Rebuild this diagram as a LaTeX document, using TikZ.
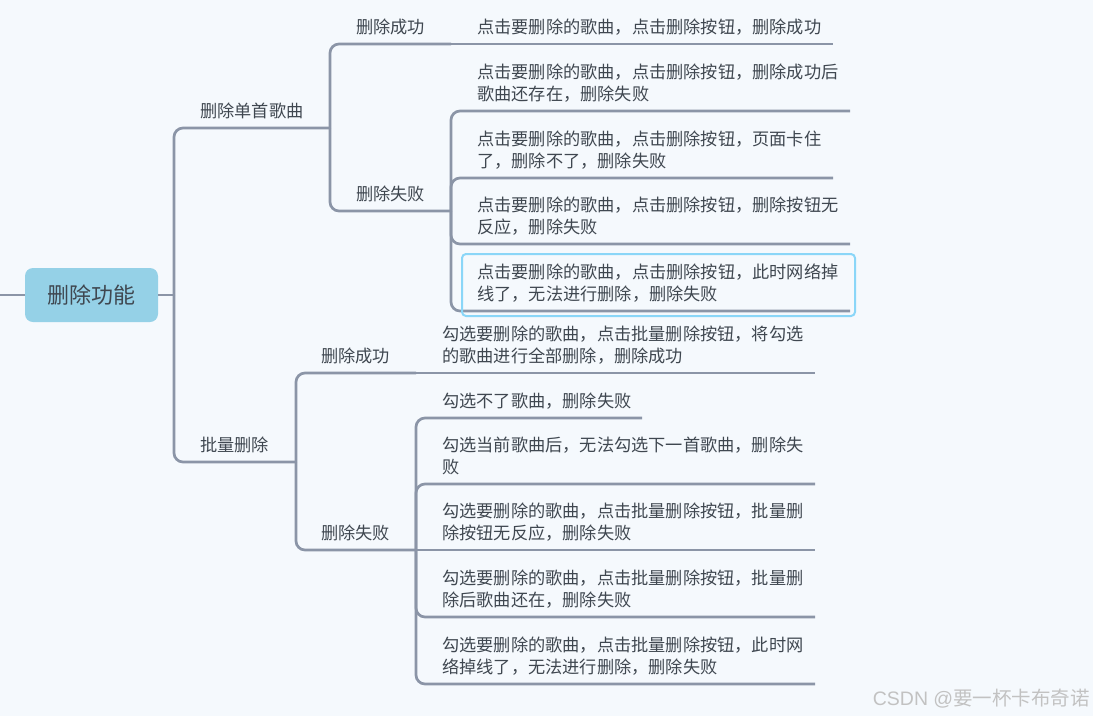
\documentclass[tikz,border=0pt]{standalone}
\usepackage{fontspec}
\setmainfont{Noto Sans CJK SC}
\newfontfamily\wmlatin{Liberation Sans}
\definecolor{bgc}{HTML}{F5F9FD}
\definecolor{linec}{HTML}{8B95A7}
\definecolor{txtc}{HTML}{3F4750}
\definecolor{rootc}{HTML}{95D1E7}
\definecolor{selc}{HTML}{8AD6F8}
\definecolor{wmc}{HTML}{C2C2C2}
\newcommand\twol[2]{\vbox{\baselineskip=22pt\lineskiplimit=-50pt\hbox{#1}\hbox{#2}}}
\begin{document}
\begin{tikzpicture}[x=1pt,y=-1pt,
  conn/.style={draw=linec,line width=2.7pt,rounded corners=9pt},
  lbl/.style={anchor=base west,inner sep=0pt,text=txtc,font=\fontsize{17.2}{22}\selectfont},
  rootbox/.style={fill=rootc,rounded corners=8pt,minimum width=133pt,minimum height=54pt,inner sep=0pt,text=txtc,font=\fontsize{22}{26}\selectfont}]
\fill[bgc] (0,0) rectangle (1093,716);
\useasboundingbox (0,0) rectangle (1093,716);

% root
\node[rootbox] (root) at (91.5,295) {删除功能};
\coordinate (c0) at (0,295);
\coordinate (j0) at (174,295);

% level 1
\node[lbl] (n1) at (200,117.5) {删除单首歌曲};
\coordinate (n1e) at (330,128);
\node[lbl] (n2) at (200,451.5) {批量删除};
\coordinate (n2e) at (296,462);

% level 2 (upper)
\node[lbl] (n11) at (356,33.5) {删除成功};
\coordinate (n11e) at (451,44);
\node[lbl] (n12) at (356,200.5) {删除失败};
\coordinate (n12e) at (451,211);

% level 2 (lower)
\node[lbl] (n21) at (321,362.5) {删除成功};
\coordinate (n21e) at (416,373);
\node[lbl] (n22) at (321,539.5) {删除失败};
\coordinate (n22e) at (416,550);

% leaves (upper)
\node[lbl] (l110) at (477,33.5) {点击要删除的歌曲，点击删除按钮，删除成功};
\coordinate (l110e) at (833,44);
\node[lbl] (l120) at (477,100.5) {\twol{点击要删除的歌曲，点击删除按钮，删除成功后}{歌曲还存在，删除失败}};
\coordinate (l120e) at (850,111);
\node[lbl] (l121) at (477,167.5) {\twol{点击要删除的歌曲，点击删除按钮，页面卡住}{了，删除不了，删除失败}};
\coordinate (l121e) at (833,178);
\node[lbl] (l122) at (477,233.5) {\twol{点击要删除的歌曲，点击删除按钮，删除按钮无}{反应，删除失败}};
\coordinate (l122e) at (850,244);
\node[lbl] (l123) at (477,300.5) {\twol{点击要删除的歌曲，点击删除按钮，此时网络掉}{线了，无法进行删除，删除失败}};
\coordinate (l123e) at (850,311);

% leaves (lower)
\node[lbl] (l210) at (442,362.5) {\twol{勾选要删除的歌曲，点击批量删除按钮，将勾选}{的歌曲进行全部删除，删除成功}};
\coordinate (l210e) at (815,373);
\node[lbl] (l220) at (442,407.5) {勾选不了歌曲，删除失败};
\coordinate (l220e) at (642,418);
\node[lbl] (l221) at (442,473.5) {\twol{勾选当前歌曲后，无法勾选下一首歌曲，删除失}{败}};
\coordinate (l221e) at (815,484);
\node[lbl] (l222) at (442,539.5) {\twol{勾选要删除的歌曲，点击批量删除按钮，批量删}{除按钮无反应，删除失败}};
\coordinate (l222e) at (815,550);
\node[lbl] (l223) at (442,606.5) {\twol{勾选要删除的歌曲，点击批量删除按钮，批量删}{除后歌曲还在，删除失败}};
\coordinate (l223e) at (815,617);
\node[lbl] (l224) at (442,673.5) {\twol{勾选要删除的歌曲，点击批量删除按钮，此时网}{络掉线了，无法进行删除，删除失败}};
\coordinate (l224e) at (815,684);

% connectors
\draw[conn] (c0) -- (root.west);
\draw[conn] (root.east) -- (j0);
\draw[conn] (j0) |- (n1e);
\draw[conn] (j0) |- (n2e);
\draw[conn] (n1e) |- (n11e);
\draw[conn] (n1e) |- (n12e);
\draw[conn] (n11e) -- (l110e);
\draw[conn] (n12e) |- (l120e);
\draw[conn] (n12e) |- (l121e);
\draw[conn] (n12e) |- (l122e);
\draw[conn] (n12e) |- (l123e);
\draw[conn] (n2e) |- (n21e);
\draw[conn] (n2e) |- (n22e);
\draw[conn] (n21e) -- (l210e);
\draw[conn] (n22e) |- (l220e);
\draw[conn] (n22e) |- (l221e);
\draw[conn] (n22e) -- (l222e);
\draw[conn] (n22e) |- (l223e);
\draw[conn] (n22e) |- (l224e);

% selection highlight
\draw[selc,line width=2pt,rounded corners=4pt] (462,254) rectangle (855,316);

% watermark
\node[anchor=base east,inner sep=0pt,text=wmc,font=\fontsize{19.5}{22}\selectfont] (wm) at (1090,705) {{\wmlatin CSDN @}要一杯卡布奇诺};
\end{tikzpicture}
\end{document}
